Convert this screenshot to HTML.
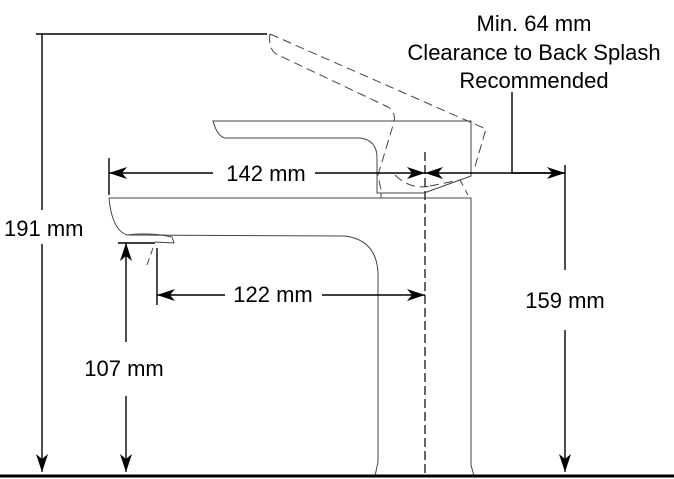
<!DOCTYPE html>
<html><head><style>
html,body{margin:0;padding:0;background:#fff;width:674px;height:479px;overflow:hidden}
text{font-family:"Liberation Sans",Arial,sans-serif;font-size:22px;fill:#000}
</style></head><body>
<svg width="674" height="479" viewBox="0 0 674 479" xmlns="http://www.w3.org/2000/svg">
<defs>
<marker id="a" viewBox="0 0 18 12" refX="18" refY="6" markerWidth="18" markerHeight="12" markerUnits="userSpaceOnUse" orient="auto">
<path d="M0,0 L18,6 L0,12 L5,6 Z" fill="#000"/></marker>
</defs>
<g fill="none" stroke="#444" stroke-width="1">
<g stroke-dasharray="9,5">
<path d="M270,34 L486,129 L474,170"/>
<path d="M270,34 Q268,48 276,54 L388,107 Q396,112 394,122 L378,175 L381,190"/>
<path d="M395,175 Q410,190 430,186"/>
<path d="M430,186 L460,180 L468,195"/>
</g>
<path d="M213,121 L471,121 L471,176 L424,193 L377,193 L377,158 Q377,140 360,138 L225,138 Q217,136 213,121 Z"/>
<path d="M381,193 L381,198"/>
<path d="M109,198 L471,198 L471,465 L474,476"/>
<path d="M109,198 Q112,230 127,235 L345,236 Q376,240 378,272 L378,462 L375,476"/>
<path d="M127,235 Q150,232 172,237 L174,243 L155,242"/>
<path d="M153,248 L147,265" stroke-dasharray="7,4"/>
</g>
<line x1="425" y1="152" x2="425" y2="476" stroke="#333" stroke-width="1.5" stroke-dasharray="9,4"/>
<g stroke="#000" stroke-width="1.4" fill="none">
<line x1="36" y1="34" x2="267" y2="34"/>
<line x1="42" y1="34" x2="42" y2="210"/>
<line x1="42" y1="244" x2="42" y2="472" marker-end="url(#a)"/>
<line x1="109" y1="158" x2="109" y2="195"/>
<line x1="213" y1="173" x2="109" y2="173" marker-end="url(#a)"/>
<line x1="315" y1="173" x2="425" y2="173" marker-end="url(#a)"/>
<line x1="565" y1="173" x2="425" y2="173" marker-end="url(#a)"/>
<line x1="512" y1="92" x2="512" y2="173"/>
<line x1="512" y1="173" x2="565" y2="173" marker-end="url(#a)"/>
<line x1="565" y1="165" x2="565" y2="270"/>
<line x1="565" y1="330" x2="565" y2="472" marker-end="url(#a)"/>
<line x1="118" y1="243" x2="155" y2="243"/>
<line x1="126" y1="342" x2="126" y2="243" marker-end="url(#a)"/>
<line x1="126" y1="396" x2="126" y2="472" marker-end="url(#a)"/>
<line x1="157" y1="248" x2="157" y2="305"/>
<line x1="225" y1="295" x2="157" y2="295" marker-end="url(#a)"/>
<line x1="322" y1="295" x2="425" y2="295" marker-end="url(#a)"/>
</g>
<line x1="0" y1="476" x2="674" y2="476" stroke="#000" stroke-width="3"/>
<text x="4" y="236">191 mm</text>
<text x="266" y="181" text-anchor="middle">142 mm</text>
<text x="273" y="302" text-anchor="middle">122 mm</text>
<text x="124" y="376" text-anchor="middle">107 mm</text>
<text x="565" y="308" text-anchor="middle">159 mm</text>
<text x="534" y="31" text-anchor="middle">Min. 64 mm</text>
<text x="534" y="60" text-anchor="middle">Clearance to Back Splash</text>
<text x="534" y="88" text-anchor="middle">Recommended</text>
</svg>
</body></html>
